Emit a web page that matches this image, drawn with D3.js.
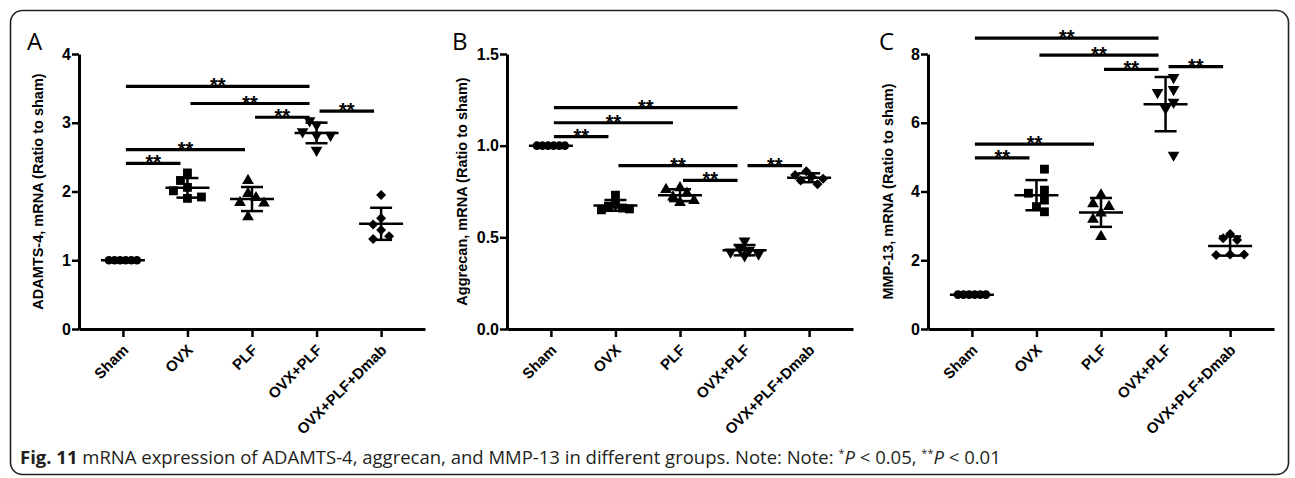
<!DOCTYPE html>
<html>
<head>
<meta charset="utf-8">
<script src="https://cdn.jsdelivr.net/npm/d3@7"></script>
<style>
  body { margin: 0; background: #fff; }
  svg { display: block; }
  .axis path, .axis line { stroke: #000; }
  .axis text { font-family: "Liberation Sans", Arial, sans-serif; font-weight: bold; fill: #000; }
  .ytitle { font-family: "Liberation Sans", Arial, sans-serif; font-weight: bold; font-size: 14.5px; }
  .panel-label { font-family: "Open Sans", sans-serif; font-size: 24px; }
  .stars { font-family: "Liberation Sans", Arial, sans-serif; font-weight: bold; font-size: 20px; }
  .caption { font-family: "Open Sans", sans-serif; font-size: 18.5px; fill: #231f20; }
</style>
</head>
<body>
<svg id="chart" width="1295" height="478"></svg>
<script>
// Group names (x categories)
var groups = [ 'Sham', 'OVX', 'PLF', 'OVX+PLF', 'OVX+PLF+Dmab' ];

// Individual values, one list per group
var adamts4 = [
  [ 1, 1, 1, 1, 1, 1 ],
  [ 2.27, 2.16, 2.06, 2.01, 1.90, 1.92 ],
  [ 2.16, 1.97, 1.84, 1.91, 1.83, 1.63 ],
  [ 2.97, 3.03, 2.82, 2.87, 2.82, 2.60 ],
  [ 1.95, 1.61, 1.44, 1.52, 1.31, 1.35 ]
];
var aggrecan = [
  [ 1, 1, 1, 1, 1, 1 ],
  [ 0.73, 0.68, 0.67, 0.66, 0.65, 0.655 ],
  [ 0.77, 0.76, 0.74, 0.72, 0.70, 0.69 ],
  [ 0.48, 0.44, 0.43, 0.42, 0.41, 0.40 ],
  [ 0.86, 0.84, 0.83, 0.82, 0.81, 0.79 ]
];
var mmp13 = [
  [ 1, 1, 1, 1, 1, 1 ],
  [ 4.65, 4.04, 3.95, 3.75, 3.56, 3.41 ],
  [ 3.90, 3.64, 3.56, 3.37, 3.19, 2.69 ],
  [ 7.32, 6.97, 6.88, 6.60, 6.42, 5.06 ],
  [ 2.76, 2.64, 2.59, 2.17, 2.15, 2.17 ]
];

// Significance brackets: [ from, to, level (data units) ]
var adamts4Sig = [
  [ 'Sham', 'OVX+PLF', 3.53 ], [ 'OVX', 'OVX+PLF', 3.28 ], [ 'PLF', 'OVX+PLF', 3.08 ],
  [ 'OVX+PLF', 'OVX+PLF+Dmab', 3.17 ], [ 'Sham', 'PLF', 2.61 ], [ 'Sham', 'OVX', 2.41 ]
];
var aggrecanSig = [
  [ 'Sham', 'OVX+PLF', 1.207 ], [ 'Sham', 'PLF', 1.125 ], [ 'Sham', 'OVX', 1.049 ],
  [ 'OVX', 'OVX+PLF', 0.891 ], [ 'PLF', 'OVX+PLF', 0.811 ], [ 'OVX+PLF', 'OVX+PLF+Dmab', 0.891 ]
];
var mmp13Sig = [
  [ 'Sham', 'OVX+PLF', 8.46 ], [ 'OVX', 'OVX+PLF', 7.97 ], [ 'PLF', 'OVX+PLF', 7.55 ],
  [ 'OVX+PLF', 'OVX+PLF+Dmab', 7.63 ], [ 'Sham', 'PLF', 5.38 ], [ 'Sham', 'OVX', 4.98 ]
];

// Tick values
var adamts4Ticks = [ 0, 1, 2, 3, 4 ];
var aggrecanTicks = [ 0, 0.5, 1.0, 1.5 ];
var mmp13Ticks = [ 0, 2, 4, 6, 8 ];

var panels = [
  { label: 'A', title: 'ADAMTS-4, mRNA (Ratio to sham)', data: adamts4, sig: adamts4Sig,
    ticks: adamts4Ticks, fmt: d3.format( 'd' ), left: 79, titleX: 38, labelX: 27 },
  { label: 'B', title: 'Aggrecan, mRNA (Ratio to sham)', data: aggrecan, sig: aggrecanSig,
    ticks: aggrecanTicks, fmt: d3.format( '.1f' ), left: 507, titleX: 462, labelX: 452 },
  { label: 'C', title: 'MMP-13, mRNA (Ratio to sham)', data: mmp13, sig: mmp13Sig,
    ticks: mmp13Ticks, fmt: d3.format( 'd' ), left: 928, titleX: 888, labelX: 879 }
];

var plotTop = 54, plotBottom = 329, plotWidth = 346;

var svg = d3.select( '#chart' );

// Outer frame
svg.append( 'rect' )
  .attr( 'x', 10.5 ).attr( 'y', 10.5 )
  .attr( 'width', 1278 ).attr( 'height', 464 )
  .attr( 'rx', 12 ).attr( 'ry', 12 )
  .attr( 'fill', 'none' )
  .attr( 'stroke', '#222' )
  .attr( 'stroke-width', 1.6 );

// One marker shape per group
var shapes = [
  { sym: d3.symbol().type( d3.symbolCircle ).size( 58 ), rot: 0 },
  { sym: d3.symbol().type( d3.symbolSquare ).size( 78 ), rot: 0 },
  { sym: d3.symbol().type( d3.symbolTriangle ).size( 60 ), rot: 0 },
  { sym: d3.symbol().type( d3.symbolTriangle ).size( 60 ), rot: 180 },
  { sym: d3.symbol().type( d3.symbolSquare ).size( 50 ), rot: 45 }
];

// Simple beeswarm: spread points sideways so they do not sit on top of each other,
// then centre the spread and keep it inside a maximum half-width.
function swarm( ys, minDist, step, maxHalf ) {
  var placed = [];
  var offs = ys.map( function( y ) {
    var off = 0;
    for ( var k = 0; k < 60; k++ ) {
      var cand = ( k % 2 === 1 ? -1 : 1 ) * Math.ceil( k / 2 ) * step;
      var ok = placed.every( function( p ) {
        var dx = p.x - cand, dy = p.y - y;
        return dx * dx + dy * dy >= minDist * minDist;
      } );
      if ( ok ) { off = cand; break; }
    }
    placed.push( { x: off, y: y } );
    return off;
  } );
  var ext = d3.extent( offs );
  var mid = ( ext[ 0 ] + ext[ 1 ] ) / 2;
  var half = ( ext[ 1 ] - ext[ 0 ] ) / 2;
  var k = half > maxHalf ? maxHalf / half : 1;
  return offs.map( function( o ) { return ( o - mid ) * k; } );
}

panels.forEach( function( p ) {

  var x = d3.scalePoint()
    .domain( groups )
    .range( [ p.left, p.left + plotWidth ] )
    .padding( 0.68 );

  var yMax = p.ticks[ p.ticks.length - 1 ];
  var y = d3.scaleLinear()
    .domain( [ 0, yMax ] )
    .range( [ plotBottom, plotTop ] );

  var g = svg.append( 'g' ).attr( 'class', 'panel' );

  // Panel letter
  g.append( 'text' )
    .attr( 'class', 'panel-label' )
    .attr( 'x', p.labelX )
    .attr( 'y', 50 )
    .text( p.label );

  // Y axis
  var yAxis = g.append( 'g' )
    .attr( 'class', 'axis' )
    .attr( 'transform', 'translate(' + p.left + ',0)' )
    .call( d3.axisLeft( y ).tickValues( p.ticks ).tickFormat( p.fmt )
      .tickSize( 7 ).tickSizeOuter( 0 ).tickPadding( 1 ) );
  yAxis.select( '.domain' ).attr( 'stroke-width', 3 );
  yAxis.selectAll( '.tick line' ).attr( 'stroke-width', 2.5 );
  yAxis.selectAll( 'text' ).style( 'font-size', '16px' );

  // X axis
  var xAxis = g.append( 'g' )
    .attr( 'class', 'axis' )
    .attr( 'transform', 'translate(0,' + plotBottom + ')' )
    .call( d3.axisBottom( x ).tickSize( 8 ).tickSizeOuter( 0 ) );
  xAxis.select( '.domain' ).attr( 'stroke-width', 3 );
  xAxis.selectAll( '.tick line' ).attr( 'stroke-width', 2.5 );
  xAxis.selectAll( 'text' )
    .style( 'font-size', '15px' )
    .attr( 'text-anchor', 'end' )
    .attr( 'y', 0 ).attr( 'dy', 0 )
    .attr( 'transform', 'translate(6,22) rotate(-45)' );

  // Y title
  g.append( 'text' )
    .attr( 'class', 'ytitle' )
    .attr( 'text-anchor', 'middle' )
    .attr( 'transform', 'translate(' + p.titleX + ',' + ( ( plotTop + plotBottom ) / 2 ) + ') rotate(-90)' )
    .attr( 'dy', '0.35em' )
    .text( p.title );

  // Points, mean and SD
  p.data.forEach( function( vals, gi ) {
    var cx = x( groups[ gi ] );
    var mean = d3.mean( vals );
    var sd = d3.deviation( vals ) || 0;
    var offs = swarm( vals.map( y ), 9, 8, 14 );
    var shape = shapes[ gi ];

    g.append( 'g' ).selectAll( 'path' )
      .data( vals )
      .enter().append( 'path' )
      .attr( 'd', shape.sym() )
      .attr( 'transform', function( d, i ) {
        return 'translate(' + ( cx + offs[ i ] ) + ',' + y( d ) + ') rotate(' + shape.rot + ')';
      } )
      .attr( 'fill', '#000' );

    var eb = g.append( 'g' ).attr( 'stroke', '#000' ).attr( 'stroke-width', 2.5 );
    eb.append( 'line' ).attr( 'x1', cx - 22 ).attr( 'x2', cx + 22 )
      .attr( 'y1', y( mean ) ).attr( 'y2', y( mean ) );
    if ( sd > 0.005 ) {
      eb.append( 'line' ).attr( 'x1', cx ).attr( 'x2', cx )
        .attr( 'y1', y( mean - sd ) ).attr( 'y2', y( mean + sd ) );
      [ mean - sd, mean + sd ].forEach( function( v ) {
        eb.append( 'line' ).attr( 'x1', cx - 11 ).attr( 'x2', cx + 11 )
          .attr( 'y1', y( v ) ).attr( 'y2', y( v ) );
      } );
    }
  } );

  // Significance brackets
  var sig = g.append( 'g' ).selectAll( 'g' )
    .data( p.sig )
    .enter().append( 'g' );
  sig.append( 'line' )
    .attr( 'x1', function( d ) { return x( d[ 0 ] ) + 3; } )
    .attr( 'x2', function( d ) { return x( d[ 1 ] ) - 7; } )
    .attr( 'y1', function( d ) { return y( d[ 2 ] ); } )
    .attr( 'y2', function( d ) { return y( d[ 2 ] ); } )
    .attr( 'stroke', '#000' )
    .attr( 'stroke-width', 3.2 );
  sig.append( 'text' )
    .attr( 'class', 'stars' )
    .attr( 'text-anchor', 'middle' )
    .attr( 'x', function( d ) { return ( x( d[ 0 ] ) + x( d[ 1 ] ) - 4 ) / 2; } )
    .attr( 'y', function( d ) { return y( d[ 2 ] ) + 6; } )
    .text( '**' );
} );

// Caption
var cap = svg.append( 'text' )
  .attr( 'class', 'caption' )
  .attr( 'x', 20 )
  .attr( 'y', 464 );
cap.append( 'tspan' ).attr( 'font-weight', 'bold' ).text( 'Fig. 11' );
cap.append( 'tspan' ).text( ' mRNA expression of ADAMTS-4, aggrecan, and MMP-13 in different groups. Note: Note: ' );
cap.append( 'tspan' ).attr( 'font-size', '11px' ).attr( 'dy', -7 ).text( '*' );
cap.append( 'tspan' ).attr( 'font-style', 'italic' ).attr( 'dy', 7 ).text( 'P' );
cap.append( 'tspan' ).text( ' < 0.05, ' );
cap.append( 'tspan' ).attr( 'font-size', '11px' ).attr( 'dy', -7 ).text( '**' );
cap.append( 'tspan' ).attr( 'font-style', 'italic' ).attr( 'dy', 7 ).text( 'P' );
cap.append( 'tspan' ).text( ' < 0.01' );
</script>
</body>
</html>
